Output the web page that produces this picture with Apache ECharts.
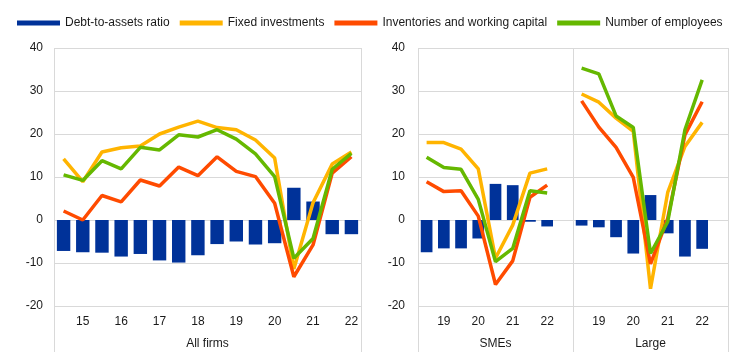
<!DOCTYPE html>
<html>
<head>
<meta charset="utf-8">
<script src="https://cdn.jsdelivr.net/npm/echarts@6/dist/echarts.min.js"></script>
<style>
html,body{margin:0;padding:0;background:#fff;}
#chart{width:743px;height:358px;}
</style>
</head>
<body>
<div id="chart"></div>
<script>
// ---- Data ----
const seriesNames = ['Debt-to-assets ratio', 'Fixed investments', 'Inventories and working capital', 'Number of employees'];
const groupNames = ['All firms', 'SMEs', 'Large'];

// All firms: half-year periods (label shown for H1 waves)
const periodsAll = ['14H2','15H1','15H2','16H1','16H2','17H1','17H2','18H1','18H2','19H1','19H2','20H1','20H2','21H1','21H2','22H1'];
const debtAll  = [-7.2,-7.5,-7.6,-8.5,-7.9,-9.4,-9.9,-8.2,-5.6,-5.0,-5.7,-5.4,7.5,4.3,-3.3,-3.3];
const fixedAll = [14.2,8.9,15.8,16.8,17.2,20.0,21.6,23.0,21.5,21.0,18.6,14.4,-11.4,4.0,13.0,15.8];
const invAll   = [2.1,0.0,5.7,4.2,9.3,7.9,12.3,10.3,14.7,11.3,10.1,3.9,-13.2,-5.8,10.9,14.7];
const empAll   = [10.5,9.2,13.8,11.9,16.9,16.3,19.8,19.3,21.0,18.8,15.4,10.1,-8.9,-4.3,11.8,15.5];

// SMEs and Large firms (last slot left empty)
const periodsSize = ['18H2','19H1','19H2','20H1','20H2','21H1','21H2','22H1',''];
const debtSme  = [-7.5,-6.6,-6.6,-4.3,8.4,8.1,-0.4,-1.5,null];
const fixedSme = [18.0,18.0,16.5,11.9,-8.9,-1.2,10.9,11.9,null];
const invSme   = [8.9,6.6,6.8,0.9,-15.0,-9.5,5.3,8.1,null];
const empSme   = [14.6,12.2,11.8,4.8,-9.7,-6.6,6.8,6.3,null];

const debtLarge  = [-1.3,-1.7,-4.0,-7.8,5.8,-3.1,-8.5,-6.7,null];
const fixedLarge = [29.3,27.4,23.7,20.6,-16.0,6.4,17.1,22.7,null];
const invLarge   = [27.7,21.6,16.9,9.9,-10.2,0.4,19.8,27.5,null];
const empLarge   = [35.3,34.0,24.2,21.5,-7.8,-0.4,21.0,32.6,null];

const yMin = -20, yMax = 40, yStep = 10;

// ---- Styles ----
const FONT = 'Liberation Sans, Arial, sans-serif';
const TXT = '#1a1a1a';
const GRIDC = '#d9d9d9';
const colors = ['#003299', '#FFB400', '#FF4B00', '#65B800'];

const chart = echarts.init(document.getElementById('chart'), null, {renderer: 'canvas'});

const grids = [
  {left: 54, top: 48, width: 307, height: 258},
  {left: 418, top: 48, width: 155, height: 258},
  {left: 573, top: 48, width: 155, height: 258}
];
const cats = [periodsAll, periodsSize, periodsSize];

const xAxes = [], yAxes = [];
grids.forEach((g, i) => {
  xAxes.push({
    type: 'category', gridIndex: i, data: cats[i], position: 'bottom',
    axisLine: {show: false}, axisTick: {show: false}, splitLine: {show: false},
    axisLabel: {interval: 0, margin: 10, color: TXT, fontFamily: FONT, fontSize: 12,
      formatter: v => v.endsWith('H1') ? v.slice(0, 2) : ''}
  });
  xAxes.push({
    type: 'category', gridIndex: i, data: [groupNames[i]], position: 'bottom',
    axisLine: {show: false},
    axisTick: {show: true, length: 46, lineStyle: {color: GRIDC, width: 1}},
    splitLine: {show: true, lineStyle: {color: GRIDC, width: 1}},
    axisLabel: {margin: 32, color: TXT, fontFamily: FONT, fontSize: 12}
  });
  yAxes.push({
    type: 'value', gridIndex: i, min: yMin, max: yMax, interval: yStep,
    axisLine: {show: false}, axisTick: {show: false},
    splitLine: {show: true, lineStyle: {color: GRIDC, width: 1}},
    axisLabel: {show: i < 2, margin: i === 0 ? 11 : 13, color: TXT, fontFamily: FONT, fontSize: 12}
  });
});

const panelData = [
  [debtAll, fixedAll, invAll, empAll],
  [debtSme, fixedSme, invSme, empSme],
  [debtLarge, fixedLarge, invLarge, empLarge]
];

const series = [];
panelData.forEach((arrs, i) => {
  series.push({
    name: seriesNames[0], type: 'bar', xAxisIndex: i * 2, yAxisIndex: i,
    data: arrs[0], barWidth: i === 0 ? '70%' : '68%',
    itemStyle: {color: colors[0]}, z: 1, animation: false
  });
  for (let k = 1; k < 4; k++) {
    series.push({
      name: seriesNames[k], type: 'line', xAxisIndex: i * 2, yAxisIndex: i,
      data: arrs[k], symbol: 'none', smooth: false, connectNulls: false,
      lineStyle: {color: colors[k], width: 3.5},
      itemStyle: {color: colors[k]}, z: 2 + k, animation: false
    });
  }
});

chart.setOption({
  animation: false,
  backgroundColor: '#ffffff',
  color: colors,
  legend: {
    left: 17, top: 17, padding: 0, itemGap: 10, itemWidth: 43, itemHeight: 5,
    icon: 'rect',
    data: seriesNames.map((n, k) => ({name: n, icon: 'rect', itemStyle: {color: colors[k]}})),
    textStyle: {color: TXT, fontFamily: FONT, fontSize: 12},
    selectedMode: false
  },
  grid: grids,
  xAxis: xAxes,
  yAxis: yAxes,
  series: series
});
</script>
</body>
</html>
